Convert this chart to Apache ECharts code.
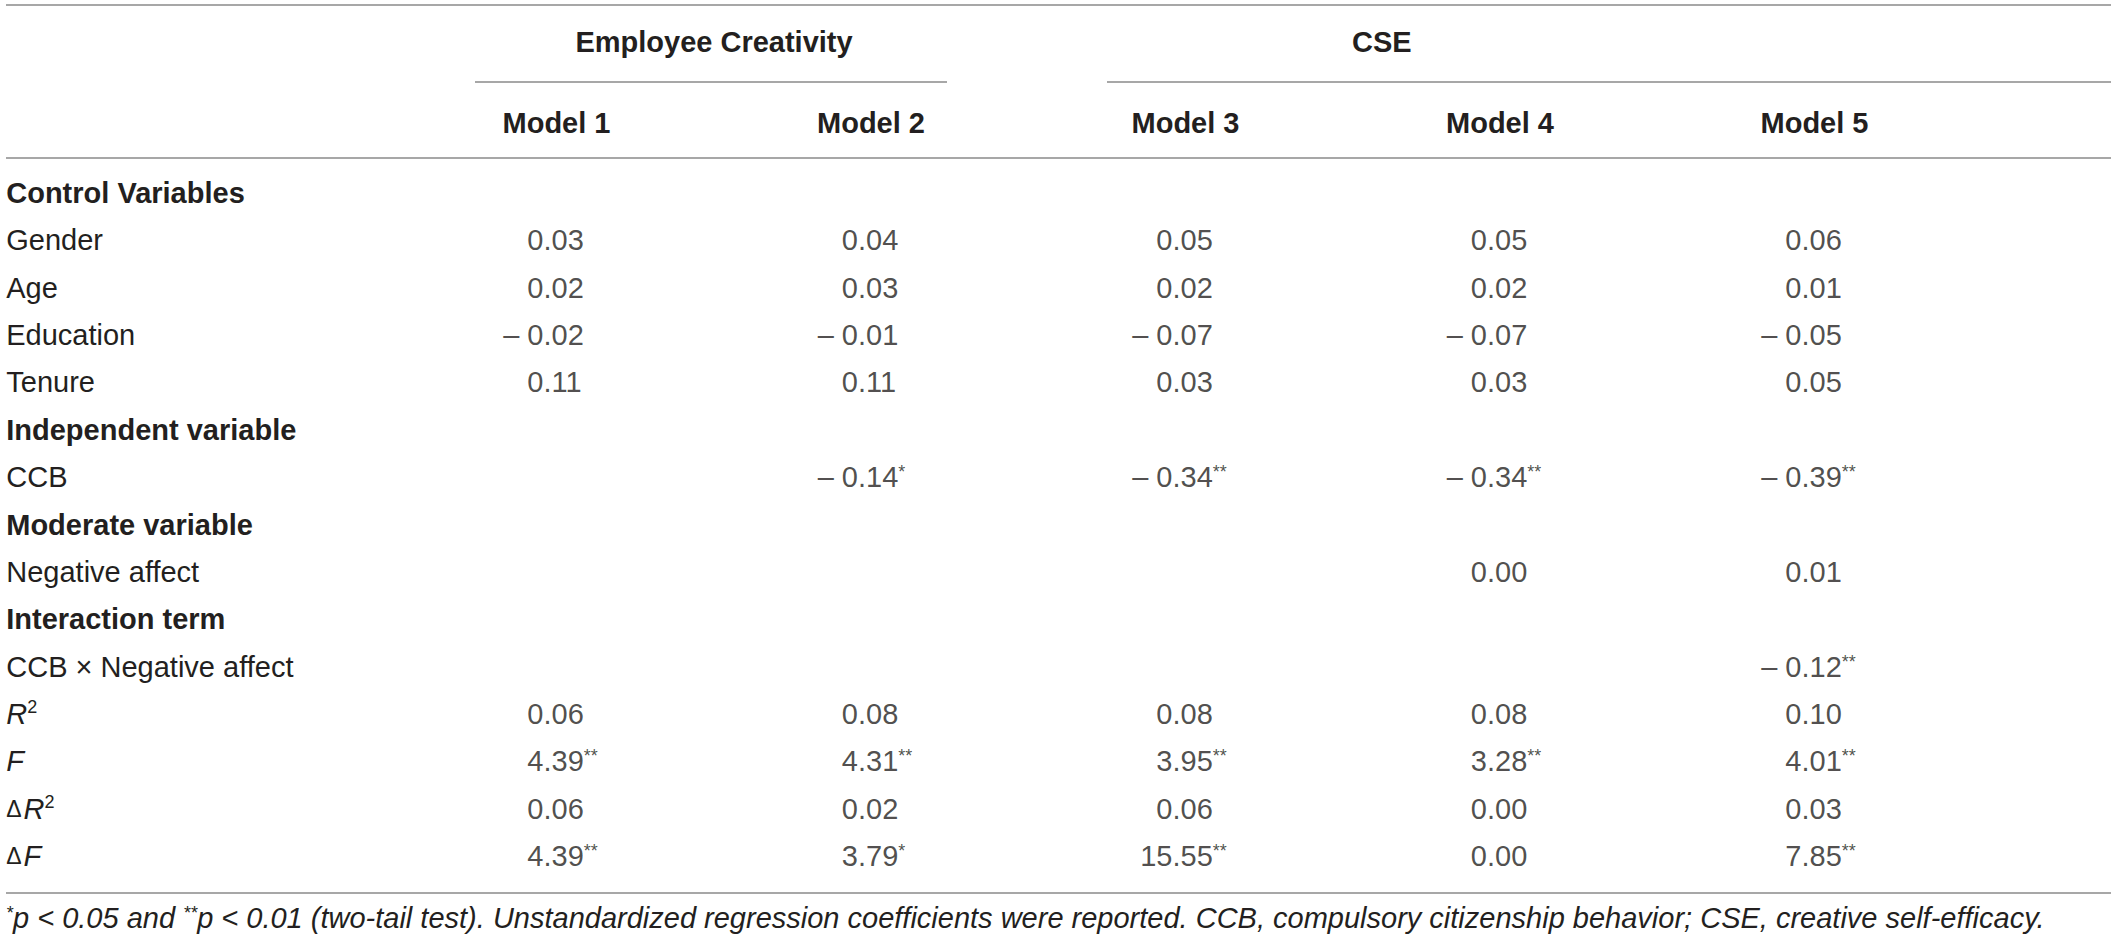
<!DOCTYPE html>
<html>
<head>
<meta charset="utf-8">
<title>CCB regression table</title>
<script src="https://cdn.jsdelivr.net/npm/echarts@6.0.0/dist/echarts.min.js"></script>
<style>
	html, body { margin: 0; padding: 0; background: #fff; }
	#table { width: 2118px; height: 941px; }
</style>
</head>
<body>
<div id="table"></div>
<script>
// rows of the table (top to bottom)
var rowNames = ['Control Variables', 'Gender', 'Age', 'Education', 'Tenure',
	'Independent variable', 'CCB', 'Moderate variable', 'Negative affect',
	'Interaction term', 'CCB × Negative affect', 'R2', 'F', 'ΔR2', 'ΔF'];
var sectionRows = ['Control Variables', 'Independent variable', 'Moderate variable', 'Interaction term'];

var groupNames = ['Employee Creativity', 'CSE'];
var modelNames = ['Model 1', 'Model 2', 'Model 3', 'Model 4', 'Model 5'];

// one list per model, same order as rowNames ('' = empty cell)
var model1 = ['', '0.03', '0.02', '– 0.02', '0.11', '', '', '', '', '', '', '0.06', '4.39**', '0.06', '4.39**'];
var model2 = ['', '0.04', '0.03', '– 0.01', '0.11', '', '– 0.14*', '', '', '', '', '0.08', '4.31**', '0.02', '3.79*'];
var model3 = ['', '0.05', '0.02', '– 0.07', '0.03', '', '– 0.34**', '', '', '', '', '0.08', '3.95**', '0.06', '15.55**'];
var model4 = ['', '0.05', '0.02', '– 0.07', '0.03', '', '– 0.34**', '', '0.00', '', '', '0.08', '3.28**', '0.00', '0.00'];
var model5 = ['', '0.06', '0.01', '– 0.05', '0.05', '', '– 0.39**', '', '0.01', '', '– 0.12**', '0.10', '4.01**', '0.03', '7.85**'];

var footnote = ['*', 'p < 0.05 and ', '**', 'p < 0.01 (two-tail test). Unstandardized regression coefficients were reported. CCB, compulsory citizenship behavior; CSE, creative self-efficacy.'];

var FONT = '"Liberation Sans", Arial, sans-serif';
var INK = '#231f20';
var RULE = '#8a8a8a';
var SIZE = 29;
var LH = 34;

// "– 0.34**" -> whole "– 0", frac ".34", stars "**"  (cells are aligned on the decimal point)
function splitValue(txt){
	var m = txt.match(/^(.*?)(\.\d+)(\**)$/);
	return { whole: m[1], frac: m[2], stars: m[3] };
}

function buildCells(){
	var models = [model1, model2, model3, model4, model5];
	var wholes = [], fracs = [];
	for(var c = 0; c < models.length; c++){
		for(var r = 0; r < rowNames.length; r++){
			var t = models[c][r];
			if(!t) continue;
			var p = splitValue(t);
			wholes.push({ value: [c, r], txt: p.whole });
			fracs.push({ value: [c, r], txt: p.frac, stars: p.stars });
		}
	}
	return { wholes: wholes, fracs: fracs };
}

function rowLabel(name){
	if(sectionRows.indexOf(name) >= 0) return '{b|' + name + '}';
	if(name == 'R2') return '{i|R}{sup|2}';
	if(name == 'F') return '{i|F}';
	if(name == 'ΔR2') return '{d|Δ}{i|R}{sup|2}';
	if(name == 'ΔF') return '{d|Δ}{i|F}';
	return '{n|' + name + '}';
}

function hline(x1, x2, y){
	return {
		type: 'line',
		shape: { x1: x1, y1: y, x2: x2, y2: y },
		style: { stroke: RULE, lineWidth: 1.6 },
		silent: true
	};
}

var cells = buildCells();
var chart = echarts.init(document.getElementById('table'), null, { renderer: 'svg' });

var option = {
	backgroundColor: '#fff',
	animation: false,
	textStyle: { fontFamily: FONT, color: INK },
	grid: { left: 386.25, right: 159.25, top: 169.3, bottom: 61.3 },
	xAxis: {
		type: 'category',
		position: 'top',
		data: modelNames,
		axisLine: { show: false },
		axisTick: { show: false },
		splitLine: { show: false },
		axisLabel: {
			interval: 0,
			margin: 29,
			formatter: function(v){ return '{m|' + v + '}'; },
			rich: {
				m: { fontFamily: FONT, fontSize: SIZE, fontWeight: 'bold', color: INK, lineHeight: LH, padding: [0, 0, 0, 26] }
			}
		}
	},
	yAxis: {
		type: 'category',
		inverse: true,
		data: rowNames,
		axisLine: { show: false },
		axisTick: { show: false },
		splitLine: { show: false },
		axisLabel: {
			interval: 0,
			align: 'left',
			margin: 380,
			formatter: rowLabel,
			rich: {
				b: { fontFamily: FONT, fontSize: SIZE, fontWeight: 'bold', color: INK, lineHeight: LH },
				n: { fontFamily: FONT, fontSize: SIZE, color: INK, lineHeight: LH },
				i: { fontFamily: FONT, fontSize: SIZE, fontStyle: 'italic', color: INK, lineHeight: LH },
				d: { fontFamily: FONT, fontSize: 23, color: INK, lineHeight: LH, padding: [0, 2, 0, 0] },
				sup: { fontFamily: FONT, fontSize: 18, color: INK, lineHeight: 18, verticalAlign: 'top', padding: [1, 0, 0, 0] }
			}
		}
	},
	series: [
		{
			name: 'whole',
			type: 'scatter',
			symbolSize: 0,
			silent: true,
			data: cells.wholes,
			label: {
				show: true,
				position: 'left',
				distance: 0,
				fontFamily: FONT,
				fontSize: SIZE,
				color: INK,
				lineHeight: LH,
				formatter: function(p){ return p.data.txt; }
			}
		},
		{
			name: 'frac',
			type: 'scatter',
			symbolSize: 0,
			silent: true,
			data: cells.fracs,
			label: {
				show: true,
				position: 'right',
				distance: 0,
				formatter: function(p){
					return '{f|' + p.data.txt + '}' + (p.data.stars ? '{s|' + p.data.stars + '}' : '');
				},
				rich: {
					f: { fontFamily: FONT, fontSize: SIZE, color: INK, lineHeight: LH },
					s: { fontFamily: FONT, fontSize: 18, color: INK, lineHeight: 18, verticalAlign: 'top', padding: [3, 0, 0, 0] }
				}
			}
		}
	],
	graphic: [
		hline(6, 2111, 5),
		hline(475, 947, 82),
		hline(1107, 2111, 82),
		hline(6, 2111, 158),
		hline(6, 2111, 893),
		{
			type: 'text', x: 714, y: 42,
			style: { text: groupNames[0], font: 'bold ' + SIZE + 'px ' + FONT, fill: INK, align: 'center', verticalAlign: 'middle' }
		},
		{
			type: 'text', x: 1352, y: 42,
			style: { text: groupNames[1], font: 'bold ' + SIZE + 'px ' + FONT, fill: INK, align: 'left', verticalAlign: 'middle' }
		},
		{
			type: 'text', x: 6, y: 918,
			style: {
				text: '{s|' + footnote[0] + '}{t|' + footnote[1] + '}{s|' + footnote[2] + '}{t|' + footnote[3] + '}',
				align: 'left', verticalAlign: 'middle',
				rich: {
					t: { fontFamily: FONT, fontSize: 29, fontStyle: 'italic', fill: INK, lineHeight: LH },
					s: { fontFamily: FONT, fontSize: 18, fontStyle: 'italic', fill: INK, lineHeight: 18, verticalAlign: 'top', padding: [3, 0, 0, 0] }
				}
			}
		}
	]
};

chart.setOption(option);
</script>
</body>
</html>
